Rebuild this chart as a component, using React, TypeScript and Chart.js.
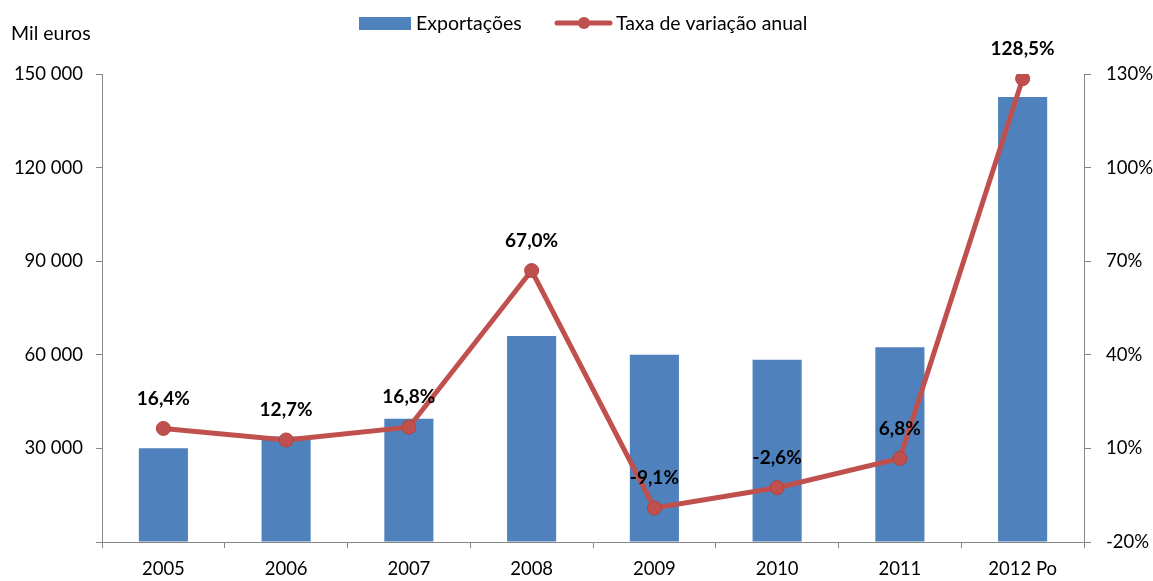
import React, { useEffect, useRef } from "react";
import { Chart, registerables } from "chart.js";

Chart.register(...registerables);

const categories = ["2005", "2006", "2007", "2008", "2009", "2010", "2011", "2012 Po"];
const exportacoes = [30020, 33830, 39520, 65990, 59990, 58430, 62400, 142590];
const taxaVariacao = [16.4, 12.7, 16.8, 67.0, -9.1, -2.6, 6.8, 128.5];
const leftTicks = { min: 0, max: 150000, step: 30000 };
const rightTicks = { min: -20, max: 130, step: 30 };

const FONT = "Lato, 'Open Sans', sans-serif";
const BLUE = "#4F81BD";
const RED = "#C0504D";
const AXIS = "#868686";

const fmtThousands = (v: number) =>
  v === 0 ? "" : String(v).replace(/\B(?=(\d{3})+(?!\d))/g, " ");
const fmtPct = (v: number) => v.toFixed(1).replace(".", ",") + "%";

const overlayPlugin = {
  id: "overlay",
  afterDatasetsDraw(chart: any) {
    const ctx = chart.ctx;
    const meta = chart.getDatasetMeta(1);
    ctx.save();
    ctx.font = `bold 19px ${FONT}`;
    ctx.fillStyle = "#000";
    ctx.textAlign = "center";
    ctx.textBaseline = "middle";
    meta.data.forEach((pt: any, i: number) => {
      ctx.fillText(fmtPct(taxaVariacao[i]), pt.x, pt.y - 30);
    });
    ctx.restore();
  },
  afterDraw(chart: any) {
    const ctx = chart.ctx;
    ctx.save();
    ctx.font = `19.5px ${FONT}`;
    ctx.fillStyle = "#000";
    ctx.textBaseline = "middle";
    ctx.textAlign = "left";
    ctx.fillText("Mil euros", 11, 34);
    // legend
    ctx.fillStyle = BLUE;
    ctx.fillRect(359, 17, 52, 13);
    ctx.fillStyle = "#000";
    ctx.fillText("Exportações", 416, 24);
    ctx.strokeStyle = RED;
    ctx.lineWidth = 5;
    ctx.lineCap = "round";
    ctx.beginPath();
    ctx.moveTo(557, 23);
    ctx.lineTo(610, 23);
    ctx.stroke();
    ctx.fillStyle = RED;
    ctx.beginPath();
    ctx.arc(584, 23, 6, 0, Math.PI * 2);
    ctx.fill();
    ctx.fillStyle = "#000";
    ctx.fillText("Taxa de variação anual", 616, 24);
    ctx.restore();
  },
};

export default function App() {
  const ref = useRef<HTMLCanvasElement>(null);
  useEffect(() => {
    if (!ref.current) return;
    const chart = new Chart(ref.current, {
      type: "bar",
      data: {
        labels: categories,
        datasets: [
          {
            type: "bar",
            label: "Exportações",
            data: exportacoes,
            backgroundColor: BLUE,
            yAxisID: "y",
            categoryPercentage: 1,
            barPercentage: 0.4,
            order: 1,
          },
          {
            type: "line",
            label: "Taxa de variação anual",
            data: taxaVariacao,
            borderColor: RED,
            backgroundColor: RED,
            borderWidth: 5,
            pointRadius: 7,
            pointBackgroundColor: RED,
            pointBorderColor: "#B4413E",
            pointBorderWidth: 1,
            tension: 0,
            yAxisID: "y1",
            order: 0,
          } as any,
        ],
      },
      options: {
        animation: false,
        responsive: false,
        maintainAspectRatio: false,
        layout: { padding: { top: 74, left: 0, right: 0, bottom: 0 } },
        plugins: { legend: { display: false }, tooltip: { enabled: false } },
        scales: {
          x: {
            type: "category",
            offset: true,
            grid: { offset: true, drawOnChartArea: false, drawTicks: true, tickLength: 6, color: AXIS },
            border: { color: AXIS, width: 1 },
            ticks: { color: "#000", font: { family: FONT, size: 18.5 }, padding: 10, maxRotation: 0, autoSkip: false },
            afterFit: (s: any) => { s.height = 39; },
          },
          y: {
            position: "left",
            min: leftTicks.min,
            max: leftTicks.max,
            grid: { drawOnChartArea: false, drawTicks: true, tickLength: 6, color: AXIS },
            border: { color: AXIS, width: 1 },
            ticks: {
              stepSize: leftTicks.step,
              color: "#000",
              font: { family: FONT, size: 18.5 },
              padding: 13,
              callback: (v: any) => fmtThousands(Number(v)),
            },
            afterFit: (s: any) => { s.width = 102; },
          },
          y1: {
            position: "right",
            min: rightTicks.min,
            max: rightTicks.max,
            grid: { drawOnChartArea: false, drawTicks: true, tickLength: 7, color: AXIS },
            border: { color: AXIS, width: 1 },
            ticks: {
              stepSize: rightTicks.step,
              color: "#000",
              font: { family: FONT, size: 18.5 },
              padding: 15,
              callback: (v: any) => `${v}%`,
            },
            afterFit: (s: any) => { s.width = 69; },
          },
        },
      } as any,
      plugins: [overlayPlugin],
    });
    return () => chart.destroy();
  }, []);
  return (
    <div style={{ position: "absolute", left: 0, top: 0, width: 1153, height: 581, background: "#fff" }}>
      <canvas ref={ref} width={1153} height={581} style={{ display: "block" }} />
    </div>
  );
}
